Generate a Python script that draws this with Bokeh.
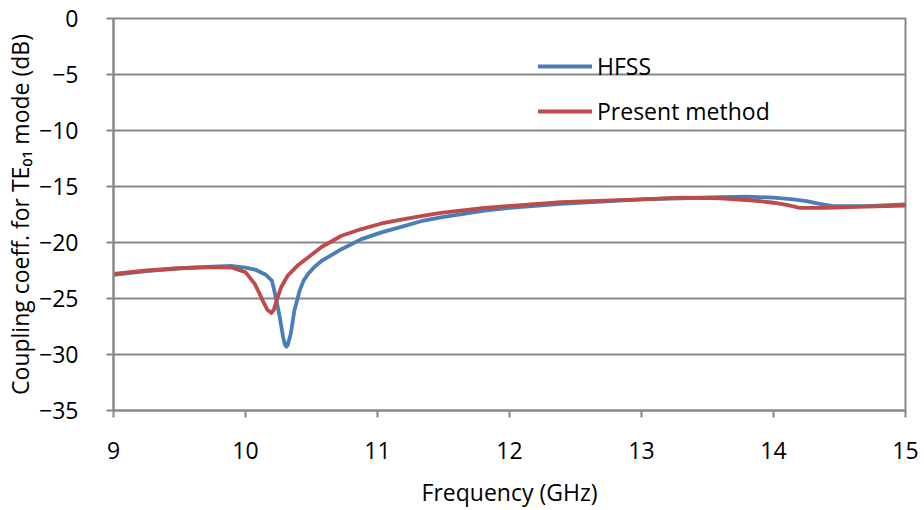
from bokeh.plotting import figure
from bokeh.models import FixedTicker, Legend, LegendItem, Range1d
from bokeh.embed import file_html
from bokeh.resources import INLINE

# Data
hfss_f = [9.0, 9.25, 9.5, 9.75, 9.9, 10.0, 10.08, 10.15, 10.2, 10.22, 10.24, 10.26,
          10.285, 10.3, 10.31, 10.32, 10.343, 10.37, 10.41, 10.44, 10.475, 10.52, 10.576,
          10.727, 10.879, 11.03, 11.18, 11.33, 11.48, 11.81, 12.0, 12.39, 13.0, 13.3, 13.6, 13.8,
          14.0, 14.15, 14.25, 14.35, 14.45, 14.7, 15.0]
hfss_db = [-22.9, -22.55, -22.3, -22.15, -22.1, -22.25, -22.45, -22.85, -23.4, -24.4, -25.5, -26.7,
           -28.45, -29.15, -29.3, -29.15, -28.15, -26.1, -24.3, -23.4, -22.8, -22.2, -21.65,
           -20.6, -19.7, -19.1, -18.6, -18.1, -17.75, -17.15, -16.9, -16.55, -16.15, -16.05, -15.95, -15.9,
           -16.0, -16.15, -16.3, -16.55, -16.75, -16.75, -16.6]

pm_f = [9.0, 9.25, 9.5, 9.75, 9.9, 10.0, 10.07, 10.1, 10.13, 10.165, 10.197, 10.215, 10.235,
        10.27, 10.32, 10.4, 10.5, 10.576, 10.727, 10.879, 11.03, 11.18, 11.33, 11.48, 11.81,
        12.39, 13.0, 13.3, 13.6, 13.85, 14.0, 14.1, 14.2, 14.4, 14.7, 15.0]
pm_db = [-22.8, -22.5, -22.3, -22.2, -22.25, -22.65, -23.7, -24.4, -25.2, -26.0, -26.3, -26.0, -25.2,
         -24.0, -22.95, -22.0, -21.1, -20.4, -19.4, -18.8, -18.3, -17.95, -17.65, -17.35, -16.9,
         -16.4, -16.15, -16.0, -16.05, -16.25, -16.45, -16.65, -16.9, -16.9, -16.8, -16.7]

x_ticks = [9, 10, 11, 12, 13, 14, 15]
y_ticks = [0, -5, -10, -15, -20, -25, -30, -35]
series_names = ["HFSS", "Present method"]

FONT = "Open Sans"
GRID = "#878787"
FS = "23px"

p = figure(width=924, height=510, output_backend="svg", toolbar_location=None,
           x_range=Range1d(9, 15), y_range=Range1d(-35, 0),
           frame_width=792, frame_height=392,
           min_border_left=113, min_border_right=19, min_border_top=18, min_border_bottom=100)

p.outline_line_color = GRID
p.outline_line_width = 2

for ax in (p.xaxis[0], p.yaxis[0]):
    ax.axis_line_color = GRID
    ax.axis_line_width = 2
    ax.major_tick_line_color = GRID
    ax.major_tick_line_width = 2
    ax.major_tick_out = 7
    ax.major_tick_in = 0
    ax.minor_tick_line_color = None
    ax.major_label_text_font = FONT
    ax.major_label_text_font_size = FS
    ax.major_label_text_color = "#000000"
    ax.axis_label_text_font = FONT
    ax.axis_label_text_font_size = FS
    ax.axis_label_text_font_style = "normal"
    ax.axis_label_text_color = "#000000"

p.xaxis.ticker = FixedTicker(ticks=x_ticks)
p.yaxis.ticker = FixedTicker(ticks=y_ticks)
p.xaxis.axis_label = "Frequency (GHz)"
p.yaxis.axis_label = "Coupling coeff. for TE\u2080\u2081 mode (dB)"
p.xaxis.major_label_standoff = 24
p.yaxis.major_label_standoff = 28
p.xaxis.axis_label_standoff = 14
p.yaxis.axis_label_standoff = 0

p.xgrid.grid_line_color = None
p.ygrid.grid_line_color = GRID
p.ygrid.grid_line_width = 2

r1 = p.line(hfss_f, hfss_db, line_color="#4A7EBB", line_width=3.8, line_join="round", line_cap="round")
r2 = p.line(pm_f, pm_db, line_color="#BE4B48", line_width=3.8, line_join="round", line_cap="round")

legend = Legend(items=[LegendItem(label=series_names[0], renderers=[r1]),
                       LegendItem(label=series_names[1], renderers=[r2])],
                location=(425, 283), orientation="vertical")
legend.background_fill_alpha = 0
legend.border_line_color = None
legend.padding = 0
legend.margin = 0
legend.spacing = 13
legend.glyph_width = 54
legend.glyph_height = 30
legend.label_height = 30
legend.label_standoff = 5
legend.label_text_font = FONT
legend.label_text_font_size = FS
legend.label_text_color = "#000000"
p.add_layout(legend, "center")

open("out.html", "w").write(file_html(p, INLINE))
